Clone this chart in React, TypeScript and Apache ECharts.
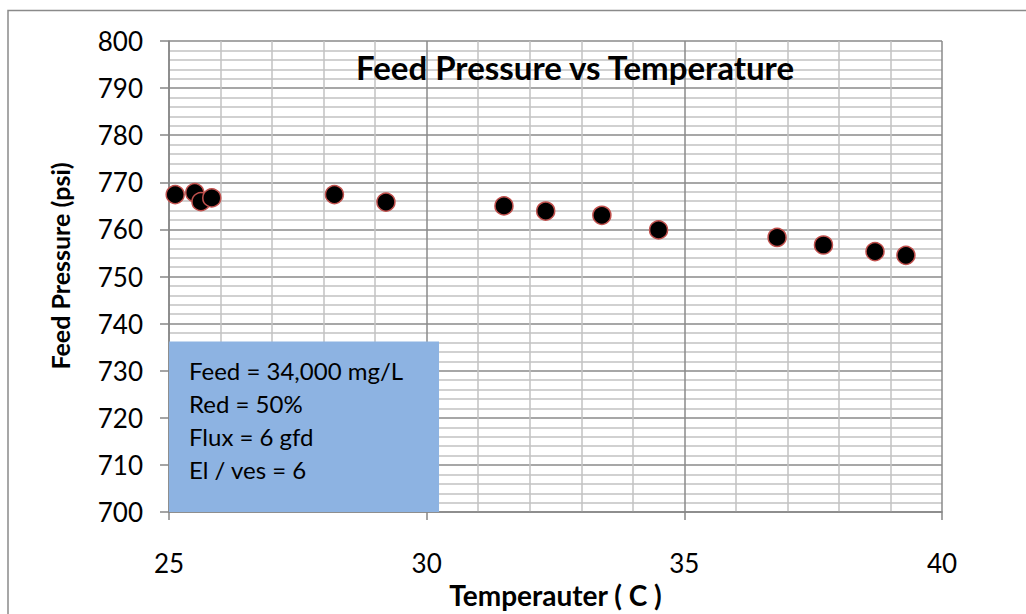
import React, { useEffect, useRef } from "react";
import * as echarts from "echarts";

const temperature = [25.12, 25.5, 25.62, 25.83, 28.21, 29.21, 31.5, 32.31, 33.4, 34.5, 36.8, 37.7, 38.7, 39.3];
const feedPressure = [767.4, 767.8, 765.9, 766.7, 767.4, 765.8, 765.0, 763.9, 763.0, 759.9, 758.3, 756.7, 755.3, 754.5];
const noteLines = ["Feed = 34,000 mg/L", "Red = 50%", "Flux = 6 gfd", "El / ves = 6"];
const noteBoxCorner = [30.24, 736.2];
const xRange = [25, 40];
const yRange = [700, 800];

const FONT = "Lato, 'Open Sans', sans-serif";

export default function App() {
  const ref = useRef<HTMLDivElement>(null);
  useEffect(() => {
    document.body.style.margin = "0";
    const chart = echarts.init(ref.current!, undefined, { renderer: "svg" });
    chart.setOption({
      animation: false,
      backgroundColor: "#ffffff",
      textStyle: { fontFamily: FONT },
      title: {
        text: "Feed Pressure vs Temperature",
        left: 570,
        top: 45,
        textAlign: "center",
        textStyle: { fontFamily: FONT, fontSize: 33, fontWeight: "bold", color: "#000" },
      },
      grid: { left: 169, right: 84, top: 41, bottom: 100 },
      xAxis: {
        type: "value",
        min: xRange[0],
        max: xRange[1],
        interval: 5,
        name: "Temperauter ( C )",
        nameLocation: "middle",
        nameGap: 60,
        nameTextStyle: { fontFamily: FONT, fontSize: 28, fontWeight: "bold", color: "#000" },
        axisLine: { show: true, lineStyle: { color: "#868686", width: 1.5 } },
        axisTick: { show: true, length: 8, lineStyle: { color: "#868686", width: 1.5 } },
        axisLabel: { fontFamily: FONT, fontSize: 26, color: "#000", margin: 38 },
        splitLine: { show: true, lineStyle: { color: "#8a8a8a", width: 1.5 } },
        minorTick: { show: false, splitNumber: 5 },
        minorSplitLine: { show: true, lineStyle: { color: "#c2c2c2", width: 1.5 } },
      },
      yAxis: {
        type: "value",
        min: yRange[0],
        max: yRange[1],
        interval: 10,
        axisLine: { show: true, lineStyle: { color: "#868686", width: 1.5 } },
        axisTick: { show: true, length: 9, lineStyle: { color: "#868686", width: 1.5 } },
        axisLabel: { fontFamily: FONT, fontSize: 26, color: "#000", margin: 26 },
        splitLine: { show: true, lineStyle: { color: "#8a8a8a", width: 1.5 } },
        minorTick: { show: false, splitNumber: 5 },
        minorSplitLine: { show: true, lineStyle: { color: "#c2c2c2", width: 1.5 } },
      },
      graphic: [
        {
          type: "rect",
          shape: { x: 8, y: 10.5, width: 1100, height: 700 },
          style: { fill: "none", stroke: "#8a8a8a", lineWidth: 1.5 },
          silent: true,
          z: 100,
        },
        {
          type: "text",
          x: 60,
          y: 266,
          rotation: Math.PI / 2,
          style: {
            text: "Feed Pressure (psi)",
            fontFamily: FONT,
            fontSize: 25,
            fontWeight: "bold",
            fill: "#000",
            align: "center",
            verticalAlign: "middle",
          },
        },
      ],
      series: [
        {
          type: "scatter",
          data: temperature.map((t, i) => [t, feedPressure[i]]),
          symbol: "circle",
          symbolSize: 18,
          itemStyle: { color: "#000000", borderColor: "#c0504d", borderWidth: 1.5, opacity: 1 },
          z: 5,
          markArea: {
            silent: true,
            itemStyle: { color: "#8db3e2", opacity: 1 },
            label: {
              show: true,
              position: "insideTopLeft",
              distance: 0,
              padding: [12, 0, 0, 20],
              formatter: noteLines.join("\n"),
              fontFamily: FONT,
              fontSize: 24,
              lineHeight: 33,
              color: "#000",
            },
            data: [[{ coord: [xRange[0], yRange[0]] }, { coord: noteBoxCorner }]],
          },
        },
      ],
    });
    return () => chart.dispose();
  }, []);
  return <div ref={ref} style={{ width: 1026, height: 614 }} />;
}
